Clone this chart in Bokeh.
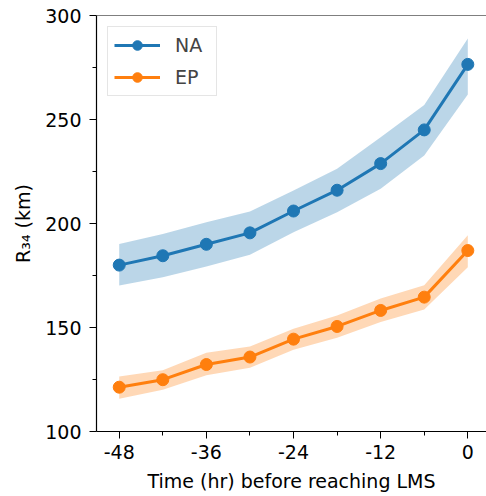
from bokeh.plotting import figure
from bokeh.models import ColumnDataSource, FixedTicker, Legend, LegendItem, Range1d, Span
from bokeh.embed import file_html
from bokeh.resources import INLINE

hours = [-48, -42, -36, -30, -24, -18, -12, -6, 0]
na_mean = [180, 184.5, 190, 195.5, 206, 216, 228.8, 245, 276.5]
na_low = [170.2, 174.2, 179.3, 185, 195.8, 205.4, 216.7, 232.7, 262]
na_high = [190.2, 195, 200.6, 205.8, 215.9, 226.3, 241.5, 257, 289]
ep_mean = [121.3, 124.9, 132.2, 135.8, 144.4, 150.5, 158.2, 164.6, 187]
ep_low = [115.7, 120.1, 127, 130.7, 139.3, 145.1, 152.6, 158.6, 179]
ep_high = [126.5, 129.4, 137.9, 140.9, 149.4, 155.8, 163.9, 170.3, 194.3]

x_major = [-48, -36, -24, -12, 0]
x_labels = ["-48", "-36", "-24", "-12", "0"]
x_minor = [-42, -30, -18, -6]
y_major = [100, 150, 200, 250, 300]
y_minor = [125, 175, 225, 275]

FONT = "DejaVu Sans"
BLUE = "#1f77b4"
ORANGE = "#ff7f0e"

p = figure(frame_width=390, frame_height=416, output_backend="svg", toolbar_location=None,
           x_range=Range1d(-51.13, 2.575), y_range=Range1d(100, 300),
           min_border_left=96, min_border_right=0, min_border_top=15, min_border_bottom=65)
p.background_fill_color = "white"
p.border_fill_color = "white"
p.grid.visible = False
p.outline_line_color = None

na = ColumnDataSource(dict(x=hours, y=na_mean, lo=na_low, hi=na_high))
ep = ColumnDataSource(dict(x=hours, y=ep_mean, lo=ep_low, hi=ep_high))

p.varea(x="x", y1="lo", y2="hi", source=na, fill_color=BLUE, fill_alpha=0.3)
p.varea(x="x", y1="lo", y2="hi", source=ep, fill_color=ORANGE, fill_alpha=0.3)
l1 = p.line("x", "y", source=na, line_color=BLUE, line_width=3)
s1 = p.scatter("x", "y", source=na, size=12, fill_color=BLUE, line_color=BLUE)
l2 = p.line("x", "y", source=ep, line_color=ORANGE, line_width=3)
s2 = p.scatter("x", "y", source=ep, size=12, fill_color=ORANGE, line_color=ORANGE)

# top spine
p.add_layout(Span(location=300, dimension="width", line_color="black", line_width=1.2))

legend = Legend(items=[LegendItem(label="NA", renderers=[l1, s1]),
                       LegendItem(label="EP", renderers=[l2, s2])],
                location="top_left")
legend.label_text_font = FONT
legend.label_text_font_size = "19px"
legend.glyph_width = 46
legend.glyph_height = 24
legend.label_standoff = 15
legend.label_width = 35
legend.spacing = 8
legend.padding = 6
legend.margin = 11
legend.border_line_color = "#cccccc"
legend.border_line_width = 1
legend.background_fill_alpha = 0.8
p.add_layout(legend)

for ax in (p.xaxis[0], p.yaxis[0]):
    ax.axis_line_color = "black"
    ax.axis_line_width = 1.2
    ax.major_tick_line_color = "black"
    ax.minor_tick_line_color = "black"
    ax.major_tick_in = 0
    ax.major_tick_out = 7
    ax.minor_tick_in = 0
    ax.minor_tick_out = 4
    ax.major_label_text_font = FONT
    ax.major_label_text_font_size = "19px"
    ax.major_label_text_color = "black"
    ax.axis_label_text_font = FONT
    ax.axis_label_text_font_size = "19px"
    ax.axis_label_text_font_style = "normal"
    ax.axis_label_text_color = "black"

p.xaxis[0].ticker = FixedTicker(ticks=x_major, minor_ticks=x_minor)
p.xaxis[0].major_label_overrides = {t: s for t, s in zip(x_major, x_labels)}
p.yaxis[0].ticker = FixedTicker(ticks=y_major, minor_ticks=y_minor)
p.xaxis[0].axis_label = "Time (hr) before reaching LMS"
p.yaxis[0].axis_label = "R₃₄ (km)"
p.xaxis[0].major_label_standoff = 6
p.yaxis[0].major_label_standoff = 8
p.xaxis[0].axis_label_standoff = 8
p.yaxis[0].axis_label_standoff = 8

open("out.html", "w").write(file_html(p, INLINE))
